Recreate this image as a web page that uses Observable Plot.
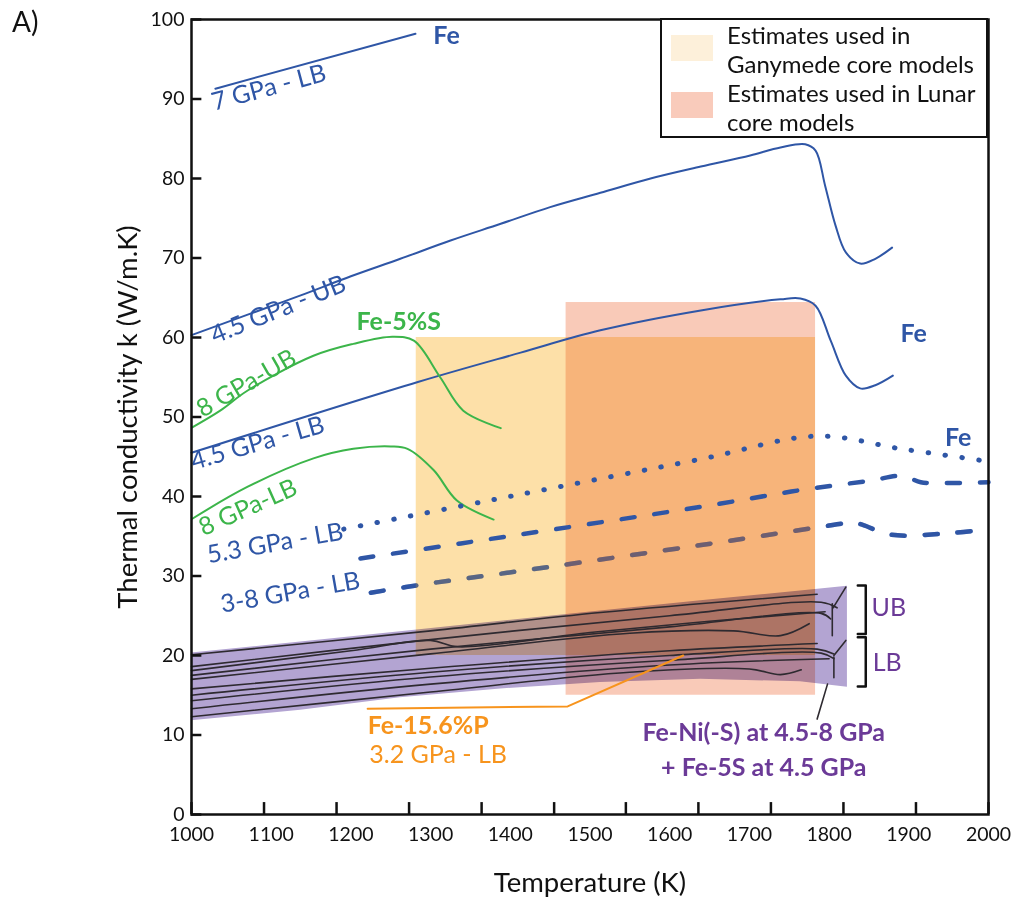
<!DOCTYPE html>
<html><head><meta charset="utf-8">
<script src="https://cdn.jsdelivr.net/npm/d3@7"></script>
<script src="https://cdn.jsdelivr.net/npm/@observablehq/plot@0.6"></script>
<style>
body{margin:0;background:#fff;font-family:Lato,sans-serif}
#wrap{position:relative;width:1015px;height:899px}
#panel{position:absolute;left:12px;top:4px;font-size:28px;color:#111}
#legend{position:absolute;left:660px;top:18px;width:324px;height:116px;border:2px solid #111;background:#fff;font-size:24px;line-height:29px;color:#111}
#legend .sw{position:absolute;left:9px;width:42px;height:26px}
#legend .tx{position:absolute;left:65px}
</style></head><body><div id="wrap"><div id="panel">A)</div></div>
<script>
// ---- data (Temperature K, conductivity W/m.K) ----
const xTickLabels = [1000,1100,1200,1300,1400,1500,1600,1700,1800,1900,2000];
const xTickMarks = [1000,1091,1182,1273,1364,1455,1545,1636,1727,1818,1909,2000];
const yTickLabels = [0,10,20,30,40,50,60,70,80,90,100];

const fe7LB = [[1030,91.3],[1281,98.2]];
const fe45UB = [[1000,60.3],[1074,63.0],[1137,65.3],[1200,67.7],[1262,69.9],[1325,72.2],[1388,74.3],[1450,76.4],[1513,78.2],[1576,80.0],[1639,81.5],[1701,82.9],[1739,83.9],[1770,84.3],[1783,83.5],[1795,79.1],[1808,74.1],[1821,70.7],[1839,69.3],[1858,69.9],[1879,71.3]];
const fe45LB = [[1000,45.5],[1284,54.4],[1413,58.1],[1513,60.9],[1639,63.4],[1739,64.8],[1764,64.9],[1783,64.0],[1802,59.6],[1821,55.2],[1839,53.6],[1858,54.0],[1880,55.2]];
const feS8UB = [[1001,48.7],[1036,50.8],[1070,53.3],[1153,57.7],[1203,59.2],[1252,60.1],[1279,59.6],[1312,55.0],[1341,50.8],[1388,48.6]];
const feS8LB = [[1001,37.2],[1070,41.2],[1153,44.8],[1203,46.0],[1250,46.3],[1271,46.0],[1304,43.3],[1333,39.5],[1379,37.1]];
const fe53LB = [[1191,35.9],[1404,40.1],[1639,44.7],[1785,47.6],[1890,46.0],[1980,44.7],[2000,44.4]];
const fe38LBa = [[1212,32.2],[1338,34.1],[1639,38.7],[1764,40.8],[1852,42.0],[1892,42.6],[1915,41.8],[1950,41.7],[2000,41.8]];
const fe38LBb = [[1225,27.9],[1262,28.5],[1308,29.2],[1396,30.4],[1660,34.2],[1785,36.1],[1831,36.7],[1843,36.4],[1877,35.2],[1952,35.4],[2000,35.9]];
const feP = [[1221,13.3],[1472,13.6],[1617,20.0]];

const ganymedeT = [1282,1783], ganymedeK = [20,60];
const lunarT = [1470,1783], lunarK = [15,64.4];

const bandT = [1000,1137,1262,1388,1513,1639,1764,1823];
const bandTop = [20.3,21.7,23.0,24.3,25.6,26.9,28.1,28.7];
const bandBottom = [11.8,13.1,14.7,15.8,16.6,17.0,16.7,16.0];

const ubLines = [
  [[1000,20.1],[1300,23.1],[1513,25.4],[1785,27.7]],
  [[1000,18.6],[1300,22.0],[1600,25.0],[1790,26.7],[1810,26.0]],
  [[1000,18.1],[1200,20.6],[1300,21.9],[1334,21.1],[1500,22.9],[1650,24.3],[1795,25.5]],
  [[1000,17.5],[1300,20.8],[1600,23.6],[1790,25.3],[1802,24.6]],
  [[1000,17.0],[1300,20.2],[1550,22.8],[1680,23.1],[1739,22.5],[1775,24.0]]
];
const lbLines = [
  [[1000,15.8],[1300,18.4],[1600,20.6],[1785,21.5]],
  [[1000,15.0],[1300,17.9],[1600,20.0],[1785,20.8],[1806,20.2]],
  [[1000,14.3],[1300,17.3],[1600,19.4],[1790,20.3],[1806,19.6]],
  [[1000,13.3],[1300,16.4],[1600,18.8],[1800,19.6]],
  [[1000,12.3],[1300,15.4],[1550,17.9],[1700,18.3],[1739,17.6],[1765,18.2]]
];
const kinks = [
  [[1804,26.5],[1804,22.5]], [[1805,26.0],[1821,28.6]],
  [[1806,19.8],[1806,17.2]], [[1806,20.0],[1821,21.9]],
  [[1798,16.4],[1785,12.0]]
];
const brackets = [
  [[1836,28.8],[1846,28.8],[1846,22.7],[1836,22.7]],
  [[1836,22.3],[1846,22.3],[1846,16.1],[1836,16.1]]
];

const blue = "#2f56a6", green = "#3cb54a", purple = "#6b3a97", orange = "#f7941d", ink = "#2e2a30";

const curveLabels = [
  {text:"7 GPa - LB", T:1097, k:91.4, rot:-15, color:blue},
  {text:"4.5 GPa - UB", T:1109, k:63.5, rot:-22, color:blue},
  {text:"8 GPa-UB", T:1069, k:54.2, rot:-30, color:green},
  {text:"4.5 GPa - LB", T:1083, k:46.7, rot:-16, color:blue},
  {text:"8 GPa-LB", T:1071, k:38.6, rot:-24, color:green},
  {text:"5.3 GPa - LB", T:1105, k:34.1, rot:-10, color:blue},
  {text:"3-8 GPa - LB", T:1124, k:27.9, rot:-10, color:blue}
];
const boldLabels = [
  {text:"Fe", T:1320, k:97.9, color:blue},
  {text:"Fe-5%S", T:1260, k:61.9, color:green},
  {text:"Fe", T:1906, k:60.5, color:blue},
  {text:"Fe", T:1962, k:47.3, color:blue},
  {text:"Fe-Ni(-S) at 4.5-8 GPa", T:1718, k:10.2, color:purple},
  {text:"+ Fe-5S at 4.5 GPa", T:1718, k:5.9, color:purple}
];
const boundLabels = [{text:"UB", T:1875, k:26.0},{text:"LB", T:1873, k:19.0}];
const pTitle = [{text:"Fe-15.6%P", T:1221, k:11.1}];
const pSub = [{text:"3.2 GPa - LB", T:1223, k:7.5}];

const pts = (a) => a.map(([T,k]) => ({T,k}));
const multi = (arr) => arr.flatMap((a,i) => a.map(([T,k]) => ({T,k,id:i})));
const band = bandT.map((T,i) => ({T, top:bandTop[i], bottom:bandBottom[i]}));

const lineOpts = (stroke, extra={}) => ({x:"T", y:"k", stroke, strokeWidth:2, curve:"catmull-rom", ...extra});

const chart = Plot.plot({
  width:1015, height:899,
  marginLeft:191, marginRight:27, marginTop:19, marginBottom:85,
  style:{fontFamily:"Lato, sans-serif", color:"#111", background:"white"},
  x:{domain:[1000,2000]},
  y:{domain:[0,100]},
  marks:[
    Plot.line(pts(fe38LBb), lineOpts(blue, {strokeWidth:4.5, strokeDasharray:"13 20"})),
    Plot.rect([0], {x1:() => ganymedeT[0], x2:() => ganymedeT[1], y1:() => ganymedeK[0], y2:() => ganymedeK[1], fill:"#f9a606", fillOpacity:0.35}),
    Plot.rect([0], {x1:() => lunarT[0], x2:() => lunarT[1], y1:() => lunarK[0], y2:() => lunarK[1], fill:"#ea480a", fillOpacity:0.29}),
    Plot.line(pts(fe38LBb), lineOpts(blue, {strokeWidth:4.5, strokeDasharray:"13 20", strokeOpacity:0.4})),
    Plot.areaY(band, {x:"T", y1:"bottom", y2:"top", fill:"#b3a4d2", mixBlendMode:"multiply"}),
    Plot.line(multi(ubLines), lineOpts(ink, {z:"id", strokeWidth:1.6})),
    Plot.line(multi(lbLines), lineOpts(ink, {z:"id", strokeWidth:1.6})),
    Plot.line(multi(kinks), {x:"T", y:"k", z:"id", stroke:ink, strokeWidth:1.6}),
    Plot.line(pts(feP), {x:"T", y:"k", stroke:orange, strokeWidth:2}),
    Plot.line(pts(fe7LB), lineOpts(blue)),
    Plot.line(pts(fe45UB), lineOpts(blue)),
    Plot.line(pts(fe45LB), lineOpts(blue)),
    Plot.line(pts(feS8UB), lineOpts(green)),
    Plot.line(pts(feS8LB), lineOpts(green)),
    Plot.line(pts(fe53LB), lineOpts(blue, {strokeWidth:5, strokeDasharray:"0.5 16.5", strokeLinecap:"round"})),
    Plot.line(pts(fe38LBa), lineOpts(blue, {strokeWidth:4.5, strokeDasharray:"13 20"})),
    Plot.line(multi(brackets), {x:"T", y:"k", z:"id", stroke:"#111", strokeWidth:2.5}),
    Plot.text(curveLabels, {x:"T", y:"k", text:"text", rotate:"rot", fill:"color", fontSize:25}),
    Plot.text(boldLabels, {x:"T", y:"k", text:"text", fill:"color", fontSize:25, fontWeight:"bold"}),
    Plot.text(boundLabels, {x:"T", y:"k", text:"text", fill:purple, fontSize:25}),
    Plot.text(pTitle, {x:"T", y:"k", text:"text", fill:orange, fontSize:25, fontWeight:"bold", textAnchor:"start"}),
    Plot.text(pSub, {x:"T", y:"k", text:"text", fill:orange, fontSize:25, textAnchor:"start"}),
    Plot.ruleX(xTickMarks, {y1:0, y2:1.5, stroke:"#111", strokeWidth:2.5}),
    Plot.ruleY(yTickLabels, {x1:1000, x2:1013, stroke:"#111", strokeWidth:2.5}),
    Plot.axisX({ticks:xTickLabels, tickSize:0, tickPadding:13, fontSize:19.5, tickFormat:d => String(d), label:"Temperature (K)", labelAnchor:"center", labelOffset:77, labelArrow:false}),
    Plot.axisY({ticks:yTickLabels, tickSize:0, tickPadding:7, fontSize:19.5, label:"Thermal conductivity k (W/m.K)", labelAnchor:"center", labelOffset:74, labelArrow:false}),
    Plot.frame({stroke:"#111", strokeWidth:2.5})
  ]
});
chart.querySelectorAll("[aria-label$='axis label'] text").forEach(t => t.style.fontSize = "27.5px");
chart.querySelectorAll("g[aria-label='area']").forEach(g => g.style.mixBlendMode = "multiply");
const wrap = document.getElementById("wrap");
wrap.insertBefore(chart, wrap.firstChild);
chart.style.position = "absolute"; chart.style.left = "0"; chart.style.top = "0";

const legendItems = [
  {lines:["Estimates used in","Ganymede core models"], color:"#fdf0da"},
  {lines:["Estimates used in Lunar","core models"], color:"#f9cbbb"}
];
const lg = document.createElement("div"); lg.id = "legend";
legendItems.forEach((it,i) => {
  const sw = document.createElement("div"); sw.className = "sw"; sw.style.background = it.color; sw.style.top = (15 + i*57) + "px"; lg.appendChild(sw);
  const tx = document.createElement("div"); tx.className = "tx"; tx.style.top = (i*58) + "px"; tx.innerHTML = it.lines.join("<br>"); lg.appendChild(tx);
});
wrap.appendChild(lg);
</script></body></html>
